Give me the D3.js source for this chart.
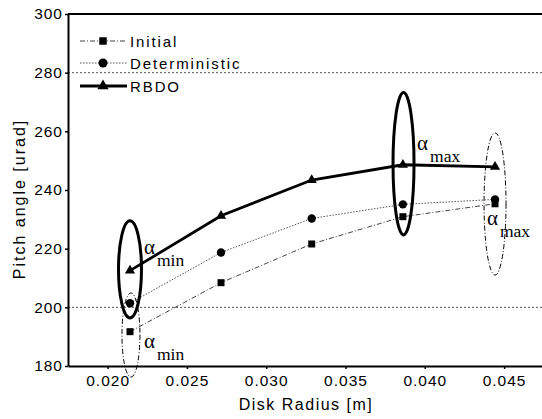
<!DOCTYPE html>
<html><head><meta charset="utf-8">
<script src="https://cdn.jsdelivr.net/npm/d3@7/dist/d3.min.js"></script>
<style>
html,body{margin:0;padding:0;background:#fff;}
svg{display:block;}
text{font-family:"Liberation Sans",Arial,sans-serif;fill:#000;}
</style></head>
<body>
<svg id="c" width="542" height="419"></svg>
<script>
// ---- data ----
const radius = [0.02141, 0.02715, 0.03287, 0.03862, 0.04443];
const initial = [191.7, 208.4, 221.6, 230.9, 235.3];
const deterministic = [201.4, 218.7, 230.3, 235.1, 236.8];
const rbdo = [212.5, 231.2, 243.4, 248.6, 247.9];
const seriesNames = ["Initial", "Deterministic", "RBDO"];
const yTicks = [180, 200, 220, 240, 260, 280, 300];
const xTicks = [0.020, 0.025, 0.030, 0.035, 0.040, 0.045];
const gridValues = [200, 280];
// ellipse annotations (data units): centre x, y low, y high
const ellipseX = [0.02141, 0.02147, 0.03866, 0.04443];
const ellipseYLow = [196.4, 176.2, 224.7, 211.0];
const ellipseYHigh = [229.5, 204.9, 273.2, 259.5];
// label annotations (data units)
const labelX = [0.02229, 0.02229, 0.03951, 0.04392];
const labelY = [218.3, 186.1, 253.6, 228.1];
const labelSub = ["min", "min", "max", "max"];

// ---- layout ----
const W = 542, H = 419;
const m = {l: 68, t: 14, r: 543.7, b: 366};
const x = d3.scaleLinear().domain([0.0175, 0.0475]).range([m.l, m.r]);
const y = d3.scaleLinear().domain([180, 300]).range([m.b, m.t]);
const svg = d3.select("#c");

// grid
svg.append("g").selectAll("line").data(gridValues).join("line")
  .attr("x1", m.l).attr("x2", W).attr("y1", d => y(d)).attr("y2", d => y(d))
  .attr("stroke", "#555").attr("stroke-width", 1).attr("stroke-dasharray", "2,2");

// frame top
svg.append("line").attr("x1", m.l).attr("x2", W).attr("y1", y(300)).attr("y2", y(300))
  .attr("stroke", "#000").attr("stroke-width", 2);

// axes
const yAxis = svg.append("g").attr("transform", `translate(${m.l},0)`)
  .call(d3.axisLeft(y).tickValues(yTicks).tickSize(3).tickSizeOuter(0).tickPadding(2).tickFormat(d3.format("d")));
const xAxis = svg.append("g").attr("transform", `translate(0,${m.b})`)
  .call(d3.axisBottom(x).tickValues(xTicks).tickSize(3).tickSizeOuter(0).tickPadding(6).tickFormat(d3.format(".3f")));
[yAxis, xAxis].forEach(a => {
  a.select(".domain").attr("stroke", "#000").attr("stroke-width", 2);
  a.selectAll(".tick line").attr("stroke", "#000").attr("stroke-width", 1.5);
  a.selectAll("text").attr("font-size", 15.5).attr("letter-spacing", 1)
    .attr("font-family", '"Liberation Sans",Arial,sans-serif').attr("fill", "#000");
});

// axis titles
svg.append("text").attr("x", 306).attr("y", 410).attr("text-anchor", "middle")
  .attr("font-size", 16).attr("letter-spacing", 1.5).text("Disk Radius [m]");
svg.append("text").attr("transform", "translate(25,199) rotate(-90)").attr("text-anchor", "middle")
  .attr("font-size", 16).attr("letter-spacing", 2).text("Pitch angle [urad]");

// series
const styles = [
  {vals: initial, dash: "5,2,1,2", w: 1, col: "#444", shape: d3.symbolSquare, size: 49, lsize: 56},
  {vals: deterministic, dash: "1.5,1.5", w: 1, col: "#555", shape: d3.symbolCircle, size: 55, lsize: 64},
  {vals: rbdo, dash: null, w: 2.8, col: "#000", shape: d3.symbolTriangle, size: 45, lsize: 55}
];
const line = d3.line().x((d, i) => x(radius[i])).y(d => y(d));
styles.forEach(s => {
  svg.append("path").attr("d", line(s.vals)).attr("fill", "none")
    .attr("stroke", s.col).attr("stroke-width", s.w)
    .attr("stroke-dasharray", s.dash);
  svg.append("g").selectAll("path").data(s.vals).join("path")
    .attr("transform", (d, i) => `translate(${x(radius[i])},${y(d)})`)
    .attr("d", d3.symbol().type(s.shape).size(s.size)).attr("fill", "#000");
});

// ellipses
const ellStyle = [
  {w: 3, dash: null, rx: 11.5},
  {w: 1, dash: "5,2,1,2", rx: 9},
  {w: 3, dash: null, rx: 10.5},
  {w: 1, dash: "5,2,1,2", rx: 11}
];
svg.append("g").selectAll("ellipse").data(ellipseX).join("ellipse")
  .attr("cx", d => x(d))
  .attr("cy", (d, i) => (y(ellipseYLow[i]) + y(ellipseYHigh[i])) / 2)
  .attr("rx", (d, i) => ellStyle[i].rx)
  .attr("ry", (d, i) => (y(ellipseYLow[i]) - y(ellipseYHigh[i])) / 2)
  .attr("fill", "none").attr("stroke", "#000")
  .attr("stroke-width", (d, i) => ellStyle[i].w)
  .attr("stroke-dasharray", (d, i) => ellStyle[i].dash);

// alpha labels
labelX.forEach((lx, i) => {
  const t = svg.append("text").attr("x", x(lx)).attr("y", y(labelY[i]))
    .style("font-family", '"Liberation Serif","Times New Roman",serif');
  t.append("tspan").attr("font-size", 21).text("α");
  t.append("tspan").attr("font-size", 17.5).attr("dx", 2).attr("dy", 12).text(labelSub[i]);
});

// legend
const legY = [41, 63, 86];
styles.forEach((s, i) => {
  const g = svg.append("g").attr("transform", `translate(0,${legY[i]})`);
  g.append("line").attr("x1", 80).attr("x2", 127).attr("y1", 0).attr("y2", 0)
    .attr("stroke", s.col).attr("stroke-width", s.w).attr("stroke-dasharray", s.dash);
  g.append("path").attr("transform", "translate(103,0)")
    .attr("d", d3.symbol().type(s.shape).size(s.lsize)).attr("fill", "#000");
  g.append("text").attr("x", 130).attr("y", 5.5).attr("font-size", 15)
    .attr("letter-spacing", 1.9).text(seriesNames[i]);
});
</script>
</body></html>
